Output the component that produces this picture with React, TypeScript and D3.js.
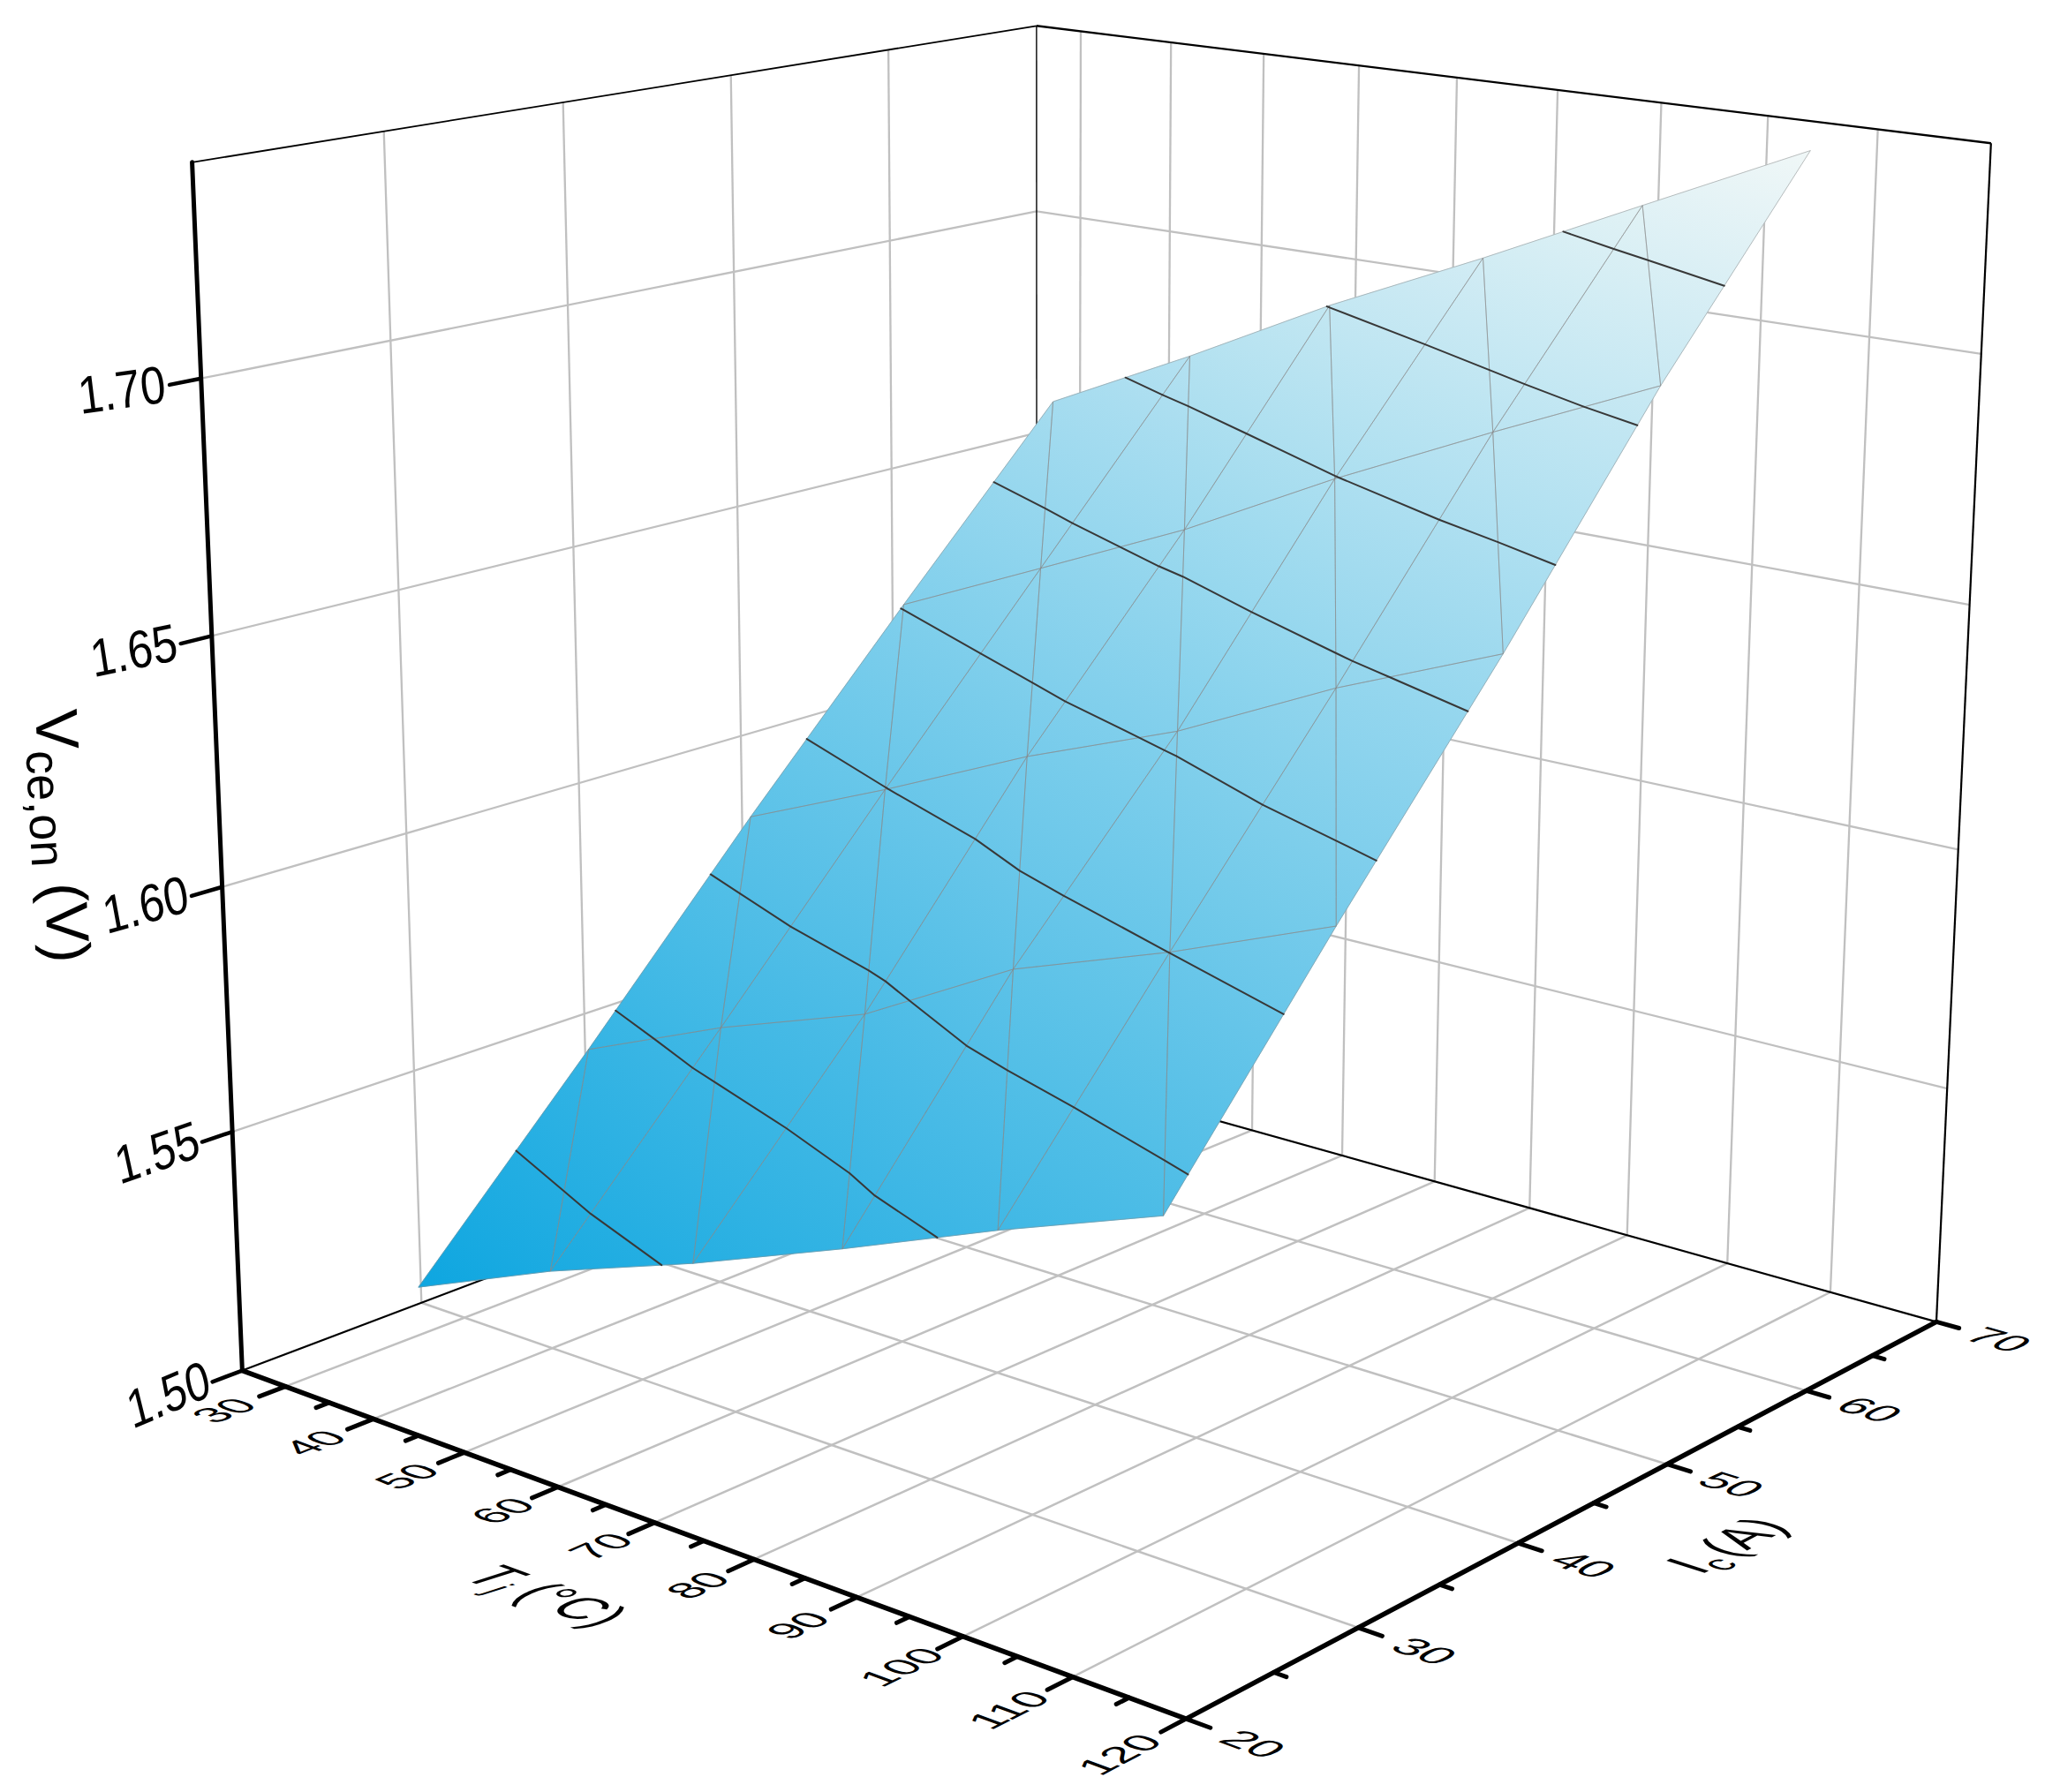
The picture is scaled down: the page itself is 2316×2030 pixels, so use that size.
import React from "react";
import * as d3 from "d3";

const tjMajor = [30, 40, 50, 60, 70, 80, 90, 100, 110, 120];
const tjMinor = [35, 45, 55, 65, 75, 85, 95, 105, 115];
const icMajor = [20, 30, 40, 50, 60, 70];
const icMinor = [25, 35, 45, 55, 65];
const vTicks = [1.5, 1.55, 1.6, 1.65, 1.7];

// Axis limits of the 3D box
const tjLimits = [25, 120];
const icLimits = [20, 70];
const vLimits = [1.5, 1.741];

// Surface samples: collector current rows, junction temperature and voltage per node
const surfaceIc = [30, 40, 50, 60, 70];
const surfaceTj = [
  [24.7, 40.0, 55.7, 71.3, 86.7, 102.2],
  [25.4, 40.6, 56.3, 71.7, 87.1, 102.6],
  [26.0, 41.3, 56.7, 72.2, 87.7, 103.2],
  [26.3, 41.8, 57.3, 72.7, 88.1, 103.6],
  [26.9, 42.3, 57.3, 73.0, 88.5, 104.0],
];
const surfaceV = [
  [1.5032, 1.5164, 1.528, 1.5408, 1.5541, 1.5665],
  [1.5424, 1.5556, 1.5671, 1.5847, 1.5963, 1.6095],
  [1.5826, 1.5959, 1.6102, 1.6226, 1.6383, 1.6518],
  [1.6202, 1.6346, 1.6491, 1.6657, 1.6809, 1.6956],
  [1.6578, 1.6733, 1.6893, 1.7043, 1.7198, 1.7352],
];
const contourLevels = [1.5255, 1.549, 1.5725, 1.5962, 1.6195, 1.6427, 1.6661, 1.689, 1.7122];
const colorLow = "#0ea6e0";
const colorHigh = "#f0f7f7";

// Screen registration of the box: Tj, Ic, V seen at x, y
const registration = [
  [25, 20, 1.5, 274.5, 1553.7], [120, 20, 1.5, 1345, 1947], [120, 70, 1.5, 2192, 1497], [25, 70, 1.5, 1174, 1212],
  [25, 20, 1.741, 216, 183.5], [25, 70, 1.741, 1173.7, 29.5], [120, 70, 1.741, 2255.6, 163.4],
  [25, 20, 1.7, 228.5, 426], [25, 70, 1.7, 1173.7, 235.3], [120, 70, 1.7, 2244.6, 396.4], [25, 20, 1.6, 252.6, 1003],
  [30, 20, 1.5, 324, 1572.3], [70, 20, 1.5, 742.3, 1724.6], [110, 20, 1.5, 1212.5, 1900.6],
  [120, 30, 1.5, 1536.8, 1842.4], [120, 50, 1.5, 1887.4, 1658.5], [120, 60, 1.5, 2046.4, 1577],
  [30, 70, 1.741, 1224, 37], [110, 70, 1.741, 2127, 149], [70, 70, 1.741, 1650, 89], [25, 60, 1.741, 1006, 58], [25, 30, 1.741, 434, 151],
];

const uS = d3.scaleLinear().domain(tjLimits).range([0, 1]);
const vS = d3.scaleLinear().domain(icLimits).range([0, 1]);
const wS = d3.scaleLinear().domain(vLimits).range([0, 1]);
const colorS = d3.scaleLinear<string>().domain([1.5032, 1.7352]).range([colorLow, colorHigh]).interpolate(d3.interpolateRgb);
const tjLabelGap = d3.scaleLinear().domain([30, 70, 120]).range([3.3, 2.9, 3.7]);

function solve(A: number[][], b: number[]) {
  const n = b.length;
  const M = A.map((r, i) => [...r, b[i]]);
  for (let c = 0; c < n; c++) {
    let p = c;
    for (let r = c + 1; r < n; r++) if (Math.abs(M[r][c]) > Math.abs(M[p][c])) p = r;
    [M[c], M[p]] = [M[p], M[c]];
    for (let r = 0; r < n; r++) {
      if (r === c) continue;
      const f = M[r][c] / M[c][c];
      for (let k = c; k <= n; k++) M[r][k] -= f * M[c][k];
    }
  }
  return M.map((r, i) => r[n] / r[i]);
}
function fitCamera() {
  const rows: number[][] = [], rhs: number[] = [];
  registration.forEach(([T, I, V, x, y]) => {
    const u = uS(T), v = vS(I), w = wS(V);
    rows.push([u, v, w, 1, 0, 0, 0, 0, -x * u, -x * v, -x * w]); rhs.push(x);
    rows.push([0, 0, 0, 0, u, v, w, 1, -y * u, -y * v, -y * w]); rhs.push(y);
  });
  const A = d3.range(11).map(i => d3.range(11).map(j => d3.sum(rows, r => r[i] * r[j])));
  const b = d3.range(11).map(i => d3.sum(rows, (r, k) => r[i] * rhs[k]));
  return solve(A, b);
}
const m = fitCamera();
type Pt = [number, number];
function P(T: number, I: number, V: number): Pt {
  const u = uS(T), v = vS(I), w = wS(V);
  const d = m[8] * u + m[9] * v + m[10] * w + 1;
  return [(m[0] * u + m[1] * v + m[2] * w + m[3]) / d, (m[4] * u + m[5] * v + m[6] * w + m[7]) / d];
}
const dirOf = (a: Pt, b: Pt): Pt => { const l = Math.hypot(b[0] - a[0], b[1] - a[1]); return [(b[0] - a[0]) / l, (b[1] - a[1]) / l]; };
const seg = (a: Pt, b: Pt) => { const p = d3.path(); p.moveTo(a[0], a[1]); p.lineTo(b[0], b[1]); return p.toString(); };
const FONT = "'Liberation Sans', Arial, sans-serif";

// text placed in a local frame: ex = baseline direction, ey = glyph-down direction
function frame(c: Pt, ex: Pt, ey: Pt, sx: number, sy: number, shift = 0.36) {
  const k = 0.01;
  const dx = ex[0] * sx * k, dy = ex[1] * sx * k, gx = ey[0] * sy * k, gy = ey[1] * sy * k;
  return `matrix(${dx} ${dy} ${gx} ${gy} ${c[0] + gx * 100 * shift} ${c[1] + gy * 100 * shift})`;
}

type Node = { T: number; I: number; V: number; p: Pt };
const nodes: Node[][] = surfaceV.map((row, j) => row.map((V, i) => ({ T: surfaceTj[j][i], I: surfaceIc[j], V, p: P(surfaceTj[j][i], surfaceIc[j], V) })));
const triangles: Node[][] = [];
d3.range(surfaceIc.length - 1).forEach(j => d3.range(surfaceV[0].length - 1).forEach(i => {
  const a = nodes[j][i], b = nodes[j][i + 1], c = nodes[j + 1][i], d = nodes[j + 1][i + 1];
  triangles.push([a, b, c], [b, d, c]);
}));
function gradientOf(t: Node[]) {
  const [a, b, c] = t;
  const [ga, gb] = solve(
    [[b.p[0] - a.p[0], b.p[1] - a.p[1]], [c.p[0] - a.p[0], c.p[1] - a.p[1]]],
    [b.V - a.V, c.V - a.V]
  );
  const n2 = ga * ga + gb * gb;
  const lo = d3.min(t, d => d.V)!, hi = d3.max(t, d => d.V)!;
  const at = (V: number): Pt => [a.p[0] + ga / n2 * (V - a.V), a.p[1] + gb / n2 * (V - a.V)];
  return { from: at(lo), to: at(hi), lo, hi };
}
function contourPath(level: number) {
  const path = d3.path();
  triangles.forEach(t => {
    const cuts: Pt[] = [];
    [[0, 1], [1, 2], [2, 0]].forEach(([x, y]) => {
      const a = t[x], b = t[y];
      if ((a.V - level) * (b.V - level) < 0) {
        const f = (level - a.V) / (b.V - a.V);
        cuts.push(P(a.T + f * (b.T - a.T), a.I + f * (b.I - a.I), level));
      }
    });
    if (cuts.length === 2) { path.moveTo(cuts[0][0], cuts[0][1]); path.lineTo(cuts[1][0], cuts[1][1]); }
  });
  return path.toString();
}
const meshPath = (() => {
  const path = d3.path();
  triangles.forEach(t => {
    path.moveTo(t[0].p[0], t[0].p[1]); path.lineTo(t[1].p[0], t[1].p[1]); path.lineTo(t[2].p[0], t[2].p[1]); path.closePath();
  });
  return path.toString();
})();

const [T0, T1] = tjLimits, [I0, I1] = icLimits, [V0, V1] = vLimits;
const GRID = "#c0c0c0";
const tjGrid = tjMajor.filter(t => t < T1);
const icGrid = icMajor.filter(i => i > I0 && i < I1);
const vGrid = vTicks.filter(v => v > V0);

export default function App() {
  return (
    <svg width={2316} height={2030} style={{ position: "absolute", left: 0, top: 0, display: "block", background: "#fff" }}>
      <defs>
        {triangles.map((t, k) => {
          const g = gradientOf(t);
          return (
            <linearGradient key={k} id={"tri" + k} gradientUnits="userSpaceOnUse" x1={g.from[0]} y1={g.from[1]} x2={g.to[0]} y2={g.to[1]}>
              <stop offset="0" stopColor={colorS(g.lo)} />
              <stop offset="1" stopColor={colorS(g.hi)} />
            </linearGradient>
          );
        })}
      </defs>
      {/* walls */}
      <g stroke={GRID} strokeWidth={2.3} fill="none">
        {tjGrid.map(t => <path key={"wt" + t} d={seg(P(t, I1, V0), P(t, I1, V1))} />)}
        {icGrid.map(i => <path key={"wi" + i} d={seg(P(T0, i, V0), P(T0, i, V1))} />)}
        {vGrid.map(v => <path key={"vl" + v} d={seg(P(T0, I0, v), P(T0, I1, v))} />)}
        {vGrid.map(v => <path key={"vr" + v} d={seg(P(T0, I1, v), P(T1, I1, v))} />)}
      </g>
      {/* floor */}
      <g stroke={GRID} strokeWidth={2.5} fill="none">
        {tjGrid.map(t => <path key={"ft" + t} d={seg(P(t, I0, V0), P(t, I1, V0))} />)}
        {icGrid.map(i => <path key={"fi" + i} d={seg(P(T0, i, V0), P(T1, i, V0))} />)}
      </g>
      {/* frame */}
      <g stroke="#000" fill="none">
        <path d={seg(P(T0, I0, V0), P(T0, I1, V0))} strokeWidth={2.2} />
        <path d={seg(P(T0, I1, V0), P(T1, I1, V0))} strokeWidth={2.2} />
        <path d={seg(P(T0, I1, V0), P(T0, I1, V1))} strokeWidth={1.4} />
        <path d={seg(P(T0, I0, V1), P(T0, I1, V1))} strokeWidth={1.8} />
        <path d={seg(P(T0, I1, V1), P(T1, I1, V1))} strokeWidth={2.4} />
        <path d={seg(P(T1, I1, V0), P(T1, I1, V1))} strokeWidth={2.2} />
      </g>
      {/* surface */}
      <g>
        {triangles.map((t, k) => (
          <polygon key={k} points={t.map(n => n.p.join(",")).join(" ")} fill={`url(#tri${k})`} stroke={`url(#tri${k})`} strokeWidth={0.8} />
        ))}
        <path d={meshPath} fill="none" stroke="#888888" strokeWidth={0.7} strokeOpacity={0.75} />
        {contourLevels.map(l => <path key={l} d={contourPath(l)} fill="none" stroke="#383838" strokeWidth={2} strokeLinecap="round" />)}
      </g>
      {/* axes */}
      <g stroke="#000" fill="none" strokeLinecap="round">
        <path d={seg(P(T0, I0, V0), P(T0, I0, V1))} strokeWidth={5} />
        <path d={seg(P(T0, I0, V0), P(T1, I0, V0))} strokeWidth={5.5} />
        <path d={seg(P(T1, I0, V0), P(T1, I1, V0))} strokeWidth={5.5} />
        {vTicks.map(v => <path key={"zt" + v} d={seg(P(T0, I0, v), P(T0, I0 - 1.6, v))} strokeWidth={4.5} />)}
        {tjMajor.map(t => <path key={"tm" + t} d={seg(P(t, I0, V0), P(t, I0 - 1.4, V0))} strokeWidth={5} />)}
        {tjMinor.map(t => <path key={"tn" + t} d={seg(P(t, I0, V0), P(t, I0 - 0.7, V0))} strokeWidth={5} />)}
        {icMajor.map(i => <path key={"im" + i} d={seg(P(T1, i, V0), P(T1 + 2.1, i, V0))} strokeWidth={5} />)}
        {icMinor.map(i => <path key={"in" + i} d={seg(P(T1, i, V0), P(T1 + 1.1, i, V0))} strokeWidth={5} />)}
      </g>
      {/* labels */}
      <g fontFamily={FONT} fontSize={100} textAnchor="middle" fill="#000">
        {vTicks.map(v => {
          const f = (v - V0) / 0.2;
          const ang = (-23 + 15 * f) * Math.PI / 180, lean = (14 - 7 * f) * Math.PI / 180;
          const a = P(T0, I0, v);
          const c: Pt = [a[0] - 84 - 6 * f, a[1] + 26 - 14 * f];
          return <text key={"zl" + v} transform={frame(c, [Math.cos(ang), Math.sin(ang)], [Math.sin(lean), Math.cos(lean)], 51, 60)}>{v.toFixed(2)}</text>;
        })}
        {tjMajor.map(t => {
          const o = P(t, I0, V0);
          const ex = dirOf(P(t, I0 - 1, V0), o), ey = dirOf(o, P(t + 1, I0, V0));
          return <text key={"tl" + t} transform={frame(P(t, I0 - tjLabelGap(t), V0), ex, ey, 50, 46)}>{t}</text>;
        })}
        {icMajor.map(i => {
          const o = P(T1, i, V0);
          const ex = dirOf(o, P(T1 + 1, i, V0)), ey = dirOf(P(T1, i + 1, V0), o);
          return <text key={"il" + i} transform={frame(P(T1 + 5.8, i, V0), ex, ey, 54, 44)}>{i}</text>;
        })}
        <text transform={frame(P(73.2, 12.7, V0), dirOf(P(70, I0, V0), P(80, I0, V0)), dirOf(P(70, I0 + 1, V0), P(70, I0, V0)), 58, 66)}>
          <tspan fontStyle="italic">T</tspan><tspan fontStyle="italic" fontSize={62} dy={14}>j</tspan><tspan dy={-14} xmlSpace="preserve"> (°C)</tspan>
        </text>
        <text transform={frame(P(131.6, 45, V0), dirOf(P(T1, 40, V0), P(T1, 50, V0)), dirOf(P(T1, 45, V0), P(T1 + 1, 45, V0)), 56, 66)}>
          I<tspan fontSize={70} dy={20}>c</tspan><tspan dy={-20} dx={10}>(A)</tspan>
        </text>
        <text transform="translate(40,805) rotate(87)" fontSize={68} textAnchor="start">
          V<tspan fontSize={54} dy={13}>ce,on</tspan><tspan dy={-13}> (V)</tspan>
        </text>
      </g>
    </svg>
  );
}
